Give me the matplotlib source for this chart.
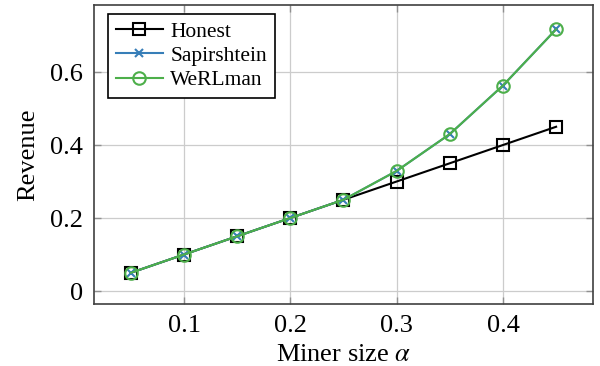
import matplotlib
matplotlib.use("Agg")
import matplotlib.pyplot as plt

plt.rcParams['font.family'] = ['Liberation Serif', 'DejaVu Serif']
plt.rcParams['mathtext.fontset'] = 'stix'

alpha = [0.05, 0.10, 0.15, 0.20, 0.25, 0.30, 0.35, 0.40, 0.45]
honest = [0.05, 0.10, 0.15, 0.20, 0.25, 0.30, 0.35, 0.40, 0.45]
sapirshtein = [0.05, 0.10, 0.15, 0.20, 0.25, 0.329, 0.430, 0.563, 0.717]
werlman = [0.05, 0.10, 0.15, 0.20, 0.25, 0.329, 0.430, 0.563, 0.717]

xticks = [0.1, 0.2, 0.3, 0.4]
yticks = [0, 0.2, 0.4, 0.6]

fig = plt.figure(figsize=(6, 3.66), dpi=100)
ax = fig.add_axes([94 / 600, 62 / 366, 499 / 600, 299 / 366])

ax.plot(alpha, honest, color='black', marker='s', markersize=9, markerfacecolor='none',
        markeredgewidth=1.5, linewidth=1.5, label='Honest')
ax.plot(alpha, sapirshtein, color='#377eb8', marker='x', markersize=6,
        markeredgewidth=1.5, linewidth=1.5, label='Sapirshtein')
ax.plot(alpha, werlman, color='#4daf4a', marker='o', markersize=9, markerfacecolor='none',
        markeredgewidth=1.5, linewidth=1.5, label='WeRLman')

ax.set_xlim(0.0153, 0.4847)
ax.set_ylim(-0.0356, 0.7836)
ax.set_xticks(xticks)
ax.set_xticklabels([str(t) for t in xticks])
ax.set_yticks(yticks)
ax.set_yticklabels(['0' if t == 0 else str(t) for t in yticks])

ax.grid(True, color='#cccccc', linewidth=0.9)
ax.set_axisbelow(True)
for s in ax.spines.values():
    s.set_color('#404040')
    s.set_linewidth(1.2)
ax.tick_params(direction='in', length=5, width=1, color='#909090', labelsize=19,
               top=True, right=True, pad=8)

ax.set_xlabel(r'Miner size $\alpha$', fontsize=19, labelpad=5)
ax.set_ylabel('Revenue', fontsize=19, labelpad=8)

# legend box roughly from x=108..275, y=14..102 px
leg = ax.legend(loc='upper left', bbox_to_anchor=(0.0281, 0.9699), fontsize=15.5,
                fancybox=False, framealpha=1, edgecolor='black', handlelength=2.2,
                borderpad=0.35, borderaxespad=0, labelspacing=0.2, handletextpad=0.35)
leg.get_frame().set_linewidth(1.2)

fig.savefig('out.png', dpi=100)
